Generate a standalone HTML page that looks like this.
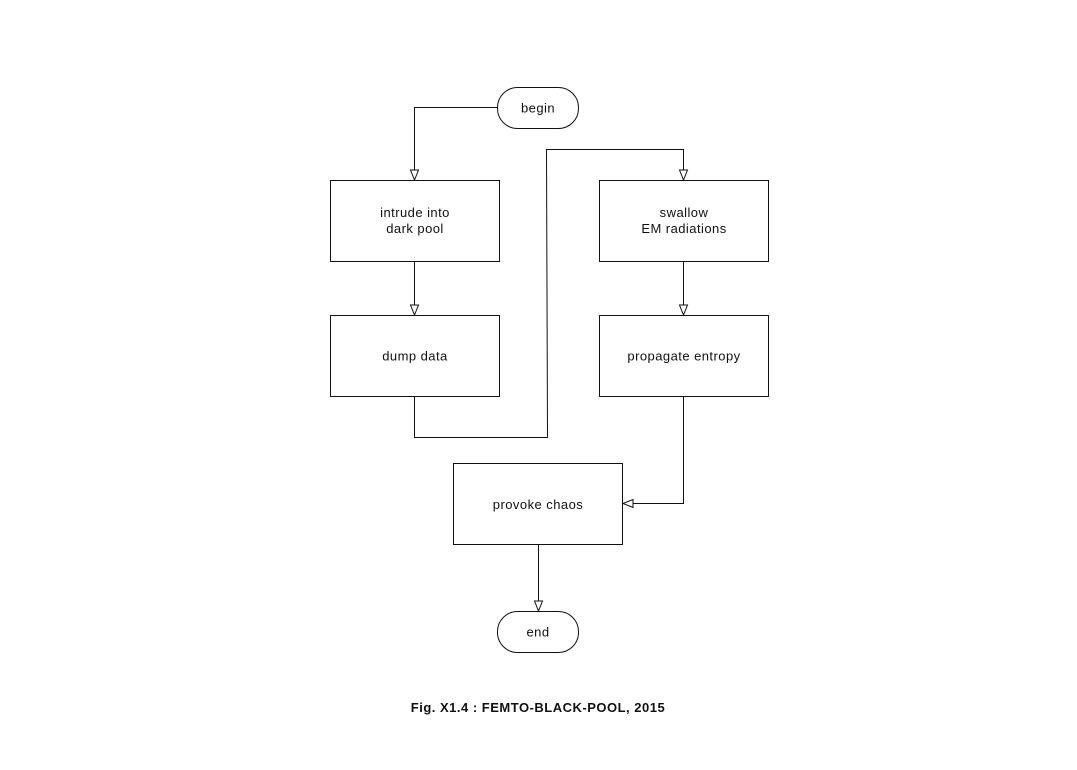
<!DOCTYPE html>
<html>
<head>
<meta charset="utf-8">
<style>
html,body{margin:0;padding:0;background:#fff;}
body{width:1077px;height:770px;overflow:hidden;}
svg{display:block;}
text{font-family:"Liberation Sans",Arial,sans-serif;font-size:13px;fill:#111;letter-spacing:0.45px;}
.cap{font-weight:bold;font-size:13px;letter-spacing:0.5px;}
</style>
</head>
<body>
<svg width="1077" height="770" viewBox="0 0 1077 770" xmlns="http://www.w3.org/2000/svg">
<g fill="none" stroke="#111" stroke-width="1">
  <!-- begin -->
  <rect x="497.5" y="87.5" width="81" height="41" rx="20" ry="20" fill="#fff"/>
  <!-- boxes -->
  <rect x="330.5" y="180.5" width="169" height="81" fill="#fff"/>
  <rect x="599.5" y="180.5" width="169" height="81" fill="#fff"/>
  <rect x="330.5" y="315.5" width="169" height="81" fill="#fff"/>
  <rect x="599.5" y="315.5" width="169" height="81" fill="#fff"/>
  <rect x="453.5" y="463.5" width="169" height="81" fill="#fff"/>
  <!-- end -->
  <rect x="497.5" y="611.5" width="81" height="41" rx="20" ry="20" fill="#fff"/>

  <!-- connectors -->
  <polyline points="497.5,107.5 414.5,107.5 414.5,170"/>
  <polyline points="414.5,262 414.5,305"/>
  <polyline points="414.5,397 414.5,437.5 547.5,437.5 546.5,149.5 683.5,149.5 683.5,170"/>
  <polyline points="683.5,262 683.5,305"/>
  <polyline points="683.5,397 683.5,503.5 633,503.5"/>
  <polyline points="538.5,545 538.5,601"/>

  <!-- arrowheads -->
  <polygon points="410.5,170 418.5,170 414.5,180" fill="#fff"/>
  <polygon points="410.5,305 418.5,305 414.5,315" fill="#fff"/>
  <polygon points="679.5,170 687.5,170 683.5,180" fill="#fff"/>
  <polygon points="679.5,305 687.5,305 683.5,315" fill="#fff"/>
  <polygon points="633,499.5 633,507.5 623,503.5" fill="#fff"/>
  <polygon points="534.5,601 542.5,601 538.5,611" fill="#fff"/>
</g>

<text x="538" y="112.5" text-anchor="middle">begin</text>
<text x="415" y="217" text-anchor="middle">intrude into</text>
<text x="415" y="233" text-anchor="middle">dark pool</text>
<text x="684" y="217" text-anchor="middle">swallow</text>
<text x="684" y="233" text-anchor="middle">EM radiations</text>
<text x="415" y="360.5" text-anchor="middle">dump data</text>
<text x="684" y="360.5" text-anchor="middle">propagate entropy</text>
<text x="538" y="509" text-anchor="middle">provoke chaos</text>
<text x="538" y="636.5" text-anchor="middle">end</text>
<text class="cap" x="538" y="712" text-anchor="middle">Fig. X1.4 : FEMTO-BLACK-POOL, 2015</text>
</svg>
</body>
</html>
